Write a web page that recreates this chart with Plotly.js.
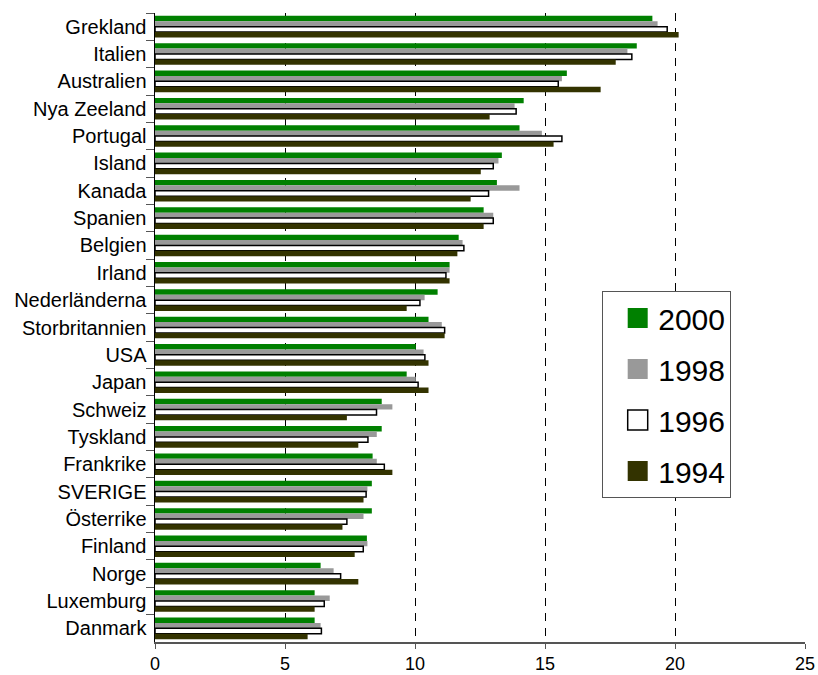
<!DOCTYPE html>
<html>
<head>
<meta charset="utf-8">
<script src="https://cdn.plot.ly/plotly-3.0.1.min.js"></script>
<style>html,body{margin:0;padding:0;background:#fff;}</style>
</head>
<body>
<div id="chart" style="width:818px;height:675px;"></div>
<script>
const countries = ["Grekland","Italien","Australien","Nya Zeeland","Portugal","Island","Kanada","Spanien","Belgien","Irland","Nederländerna","Storbritannien","USA","Japan","Schweiz","Tyskland","Frankrike","SVERIGE","Österrike","Finland","Norge","Luxemburg","Danmark"];
const v2000 = [19.13,18.53,15.84,14.18,14.02,13.34,13.15,12.64,11.68,11.33,10.87,10.52,10.03,9.68,8.72,8.72,8.37,8.34,8.34,8.15,6.37,6.14,6.14];
const v1998 = [19.33,18.17,15.65,13.83,14.88,13.21,14.02,13.01,11.83,11.33,10.37,11.03,10.33,10.03,9.13,8.53,8.53,8.17,8.02,8.17,6.87,6.72,6.37];
const v1996 = [19.70,18.34,15.51,13.89,15.65,13.01,12.83,13.01,11.88,11.19,10.19,11.14,10.38,10.12,8.52,8.19,8.82,8.12,7.38,8.01,7.14,6.51,6.40];
const v1994 = [20.14,17.72,17.14,12.87,15.33,12.53,12.14,12.64,11.63,11.33,9.68,11.14,10.52,10.52,7.38,7.82,9.13,8.02,7.21,7.68,7.82,6.14,5.87];
const seriesNames = ["2000","1998","1996","1994"];
const seriesColors = ["#008000","#999999","#ffffff","#333300"];
const seriesLine = [0,0,1.5,0];
const seriesValues = [v2000,v1998,v1996,v1994];

const traces = seriesNames.map((n,i)=>({
  type:'bar', orientation:'h', name:n,
  y: countries, x: seriesValues[i],
  legendgroup: 'g'+i,
  marker:{color:seriesColors[i], line:{color:'#000', width:seriesLine[i]}},
  hoverinfo:'none'
}));

const layout = {
  width:818, height:675,
  margin:{l:155, r:13, t:13, b:33},
  paper_bgcolor:'#fff', plot_bgcolor:'#fff',
  font:{family:'Liberation Sans, Arial, sans-serif', color:'#000'},
  barmode:'group', bargap:0.21, bargroupgap:0,
  showlegend:true,
  legend:{
    x:0.688, y:0.558, xanchor:'left', yanchor:'top',
    bgcolor:'#fff', bordercolor:'#555', borderwidth:1,
    font:{size:30, color:'#000'},
    traceorder:'grouped', tracegroupgap:9, itemwidth:45
  },
  xaxis:{
    range:[0,25], dtick:5, tick0:0,
    showgrid:true, gridcolor:'#000', gridwidth:1, griddash:'8px,7px',
    zeroline:false, showline:true, linecolor:'#555', linewidth:1.5,
    ticks:'outside', ticklen:5, tickcolor:'#555',
    tickfont:{size:18, color:'#000'}, automargin:false
  },
  yaxis:{
    autorange:'reversed', type:'category',
    tickson:'boundaries', ticks:'outside', ticklen:8, tickcolor:'#555',
    ticklabelstandoff:3,
    showline:true, linecolor:'#000', linewidth:1.5,
    showgrid:false, zeroline:false,
    tickfont:{size:20, color:'#000'}, automargin:false
  }
};

Plotly.newPlot('chart', traces, layout, {displayModeBar:false, staticPlot:true}).then(()=>{
  document.querySelectorAll('.legend .legendpoints path').forEach(p=>{
    p.setAttribute('d','M17,10H-3V-10H17Z');
  });
});
</script>
</body>
</html>
